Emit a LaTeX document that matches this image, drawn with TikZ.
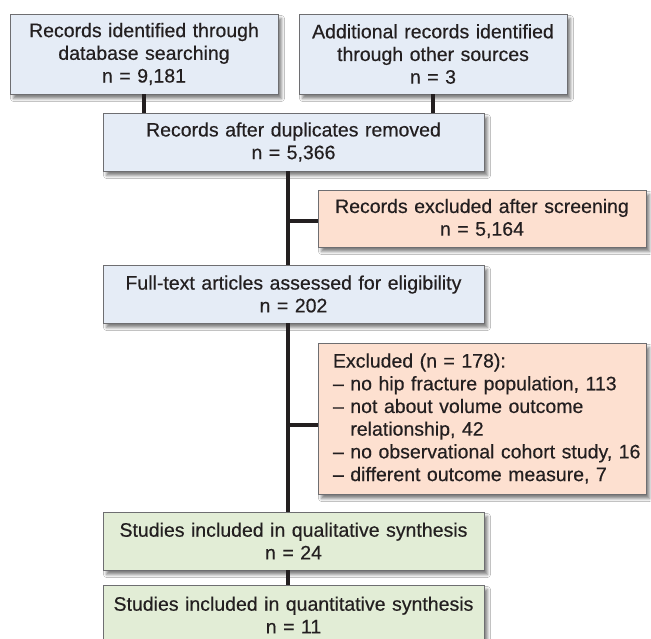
\documentclass[tikz,border=0pt]{standalone}
\usepackage{fontspec}
\setmainfont{Liberation Sans}
\newfontfamily\boxfont[FakeBold=0.4]{Liberation Sans}
\usetikzlibrary{shadows.blur}
\definecolor{bluefill}{RGB}{229,236,246}
\definecolor{orangefill}{RGB}{253,224,208}
\definecolor{greenfill}{RGB}{226,237,214}
\definecolor{boxline}{RGB}{110,110,113}
\definecolor{txt}{RGB}{35,31,32}
\begin{document}
\begin{tikzpicture}[x=1pt,y=-1pt,
  box/.style={draw=boxline, line width=0.9pt, inner sep=0pt, align=center, text=txt,
    font=\boxfont\fontsize{19.5}{22.7}\selectfont,
    blur shadow={shadow xshift=3.5pt, shadow yshift=-4.5pt, shadow blur radius=3pt, shadow opacity=50}},
  bluebox/.style={box, fill=bluefill},
  orangebox/.style={box, fill=orangefill},
  greenbox/.style={box, fill=greenfill},
  mainbox/.style={minimum width=381pt, text width=381pt, minimum height=58pt},
  topbox/.style={minimum width=268pt, text width=268pt, minimum height=80pt},
  exbox/.style={minimum width=328pt, text width=328pt},
  conn/.style={draw=txt, line width=3.6pt}
]
\useasboundingbox (0,0) rectangle (651,639);
\fill[white] (0,0) rectangle (651,639);

\node[bluebox, topbox] (b1) at (144,54) {Records identified through\\database searching\\n = 9,181};
\node[bluebox, topbox] (b2) at (433,54) {Additional records identified\\through other sources\\n = 3};
\node[bluebox, mainbox] (b3) at (293.5,142) {Records after duplicates removed\\n = 5,366};
\node[orangebox, exbox, minimum height=57pt] (ex1) at (482,218.5) {Records excluded after screening\\n = 5,164};
\node[bluebox, mainbox] (ft) at (293.5,294) {Full-text articles assessed for eligibility\\n = 202};
\node[orangebox, minimum width=328pt, text width=298pt, inner xsep=15pt, align=left, minimum height=151pt] (ex2) at (482,418.5)
  {\mbox{Excluded (n = 178):}\\
   \mbox{– no hip fracture population, 113}\\
   \mbox{– not about volume outcome}\\
   \mbox{\phantom{– }relationship, 42}\\
   \mbox{– no observational cohort study, 16}\\
   \mbox{– different outcome measure, 7}};
\node[greenbox, mainbox] (q1) at (293.5,541) {Studies included in qualitative synthesis\\n = 24};
\node[greenbox, mainbox, minimum height=60pt] (q2) at (293.5,615) {Studies included in quantitative synthesis\\n = 11};

\coordinate (ml) at (288,0);
\coordinate (j1) at (288,221);
\coordinate (j2) at (288,425);

\draw[conn] (b1.south) -- (b1.south |- b3.north);
\draw[conn] (b2.south) -- (b2.south |- b3.north);
\draw[conn] (b3.south -| ml) -- (ft.north -| ml);
\draw[conn] (ft.south -| ml) -- (q1.north -| ml);
\draw[conn] (q1.south -| ml) -- (q2.north -| ml);
\draw[conn] (j1) -- (j1 -| ex1.west);
\draw[conn] (j2) -- (j2 -| ex2.west);
\end{tikzpicture}
\end{document}
